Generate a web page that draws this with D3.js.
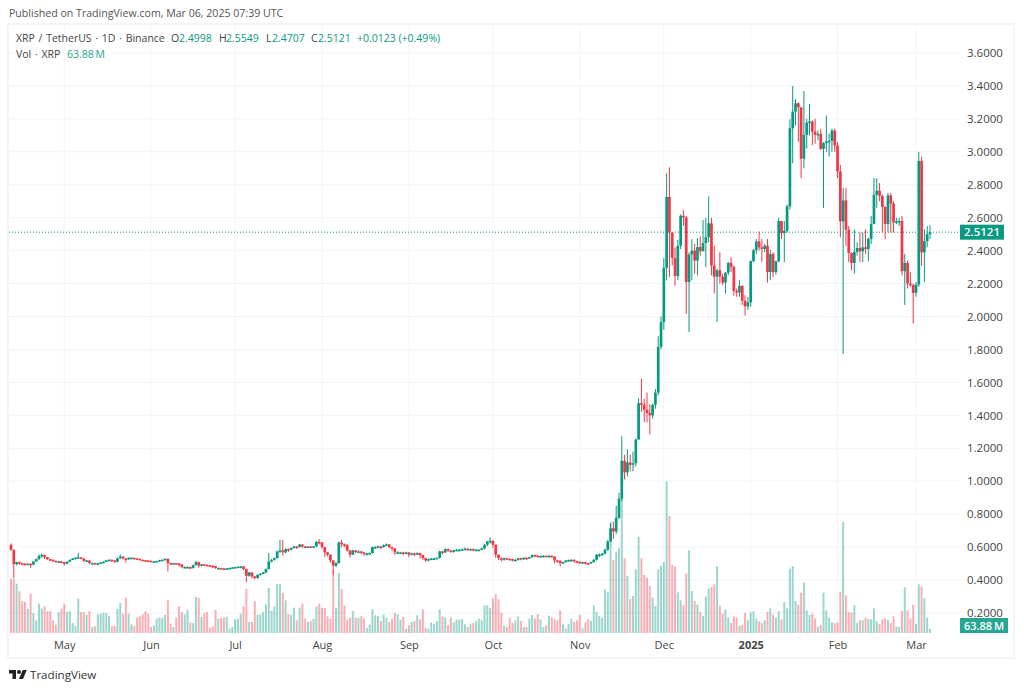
<!DOCTYPE html>
<html>
<head>
<meta charset="utf-8">
<script src="https://cdn.jsdelivr.net/npm/d3@7/dist/d3.min.js"></script>
<style>
body { margin: 0; background: #fff; }
text { font-family: "Open Sans", sans-serif; }
</style>
</head>
<body>
<svg id="chart" width="1024" height="691"></svg>
<script>
// daily candles, 12 Apr 2024 to 6 Mar 2025
var firstDay = Date.UTC(2024, 3, 12);
var firstOpen = 0.614;

var closes = [
  .584,.497,.509,.503,.499,.497,.499,.493,.513,.527,
  .547,.553,.539,.527,.523,.517,.513,.513,.509,.499,
  .511,.523,.531,.535,.539,.531,.517,.519,.503,.503,
  .501,.503,.507,.511,.519,.523,.519,.511,.533,.543,
  .531,.527,.535,.535,.531,.529,.523,.521,.519,.517,
  .513,.513,.515,.521,.523,.529,.503,.501,.503,.501,
  .495,.479,.479,.479,.473,.491,.509,.487,.495,.493,
  .489,.487,.485,.473,.473,.471,.467,.471,.473,.477,
  .479,.481,.483,.467,.426,.446,.422,.412,.432,.438,
  .446,.467,.513,.523,.533,.574,.580,.568,.588,.584,
  .594,.604,.600,.616,.604,.600,.604,.600,.604,.632,
  .628,.600,.568,.554,.519,.487,.503,.628,.618,.614,
  .580,.554,.580,.574,.574,.568,.560,.562,.564,.600,
  .600,.604,.600,.612,.616,.600,.592,.568,.568,.568,
  .564,.568,.554,.562,.560,.564,.552,.533,.519,.527,
  .531,.531,.535,.574,.568,.588,.580,.572,.580,.584,
  .584,.586,.590,.588,.588,.584,.584,.584,.592,.614,
  .634,.638,.614,.554,.533,.523,.533,.529,.527,.523,
  .523,.533,.529,.535,.533,.539,.552,.548,.543,.546,
  .547,.545,.547,.543,.519,.517,.503,.509,.519,.521,
  .523,.515,.511,.507,.509,.503,.501,.509,.523,.553,
  .555,.560,.584,.634,.714,.695,.778,.894,1.124,1.054,
  1.114,1.10,1.11,1.254,1.474,1.464,1.434,1.414,1.40,1.464,
  1.538,1.816,1.966,2.296,2.726,2.51,2.356,2.246,2.43,2.612,
  2.602,2.21,2.376,2.40,2.34,2.422,2.396,2.446,2.482,2.566,
  2.31,2.242,2.28,2.242,2.206,2.266,2.326,2.302,2.156,2.146,
  2.186,2.096,2.062,2.086,2.336,2.402,2.456,2.42,2.41,2.43,
  2.27,2.38,2.27,2.335,2.58,2.507,2.52,2.669,3.143,3.244,
  3.295,3.271,2.958,3.103,3.178,3.184,3.123,3.103,3.109,3.018,
  3.053,3.063,3.067,3.129,3.038,2.881,2.578,2.705,2.527,2.386,
  2.325,2.392,2.416,2.396,2.42,2.41,2.471,2.562,2.739,2.764,
  2.733,2.665,2.562,2.735,2.685,2.572,2.578,2.58,2.275,2.325,
  2.2,2.19,2.144,2.194,2.945,2.39,2.457,2.4998,2.5121
];

var highs = [
  .622,.586,.512,.512,.506,.504,.503,.502,.515,.530,
  .556,.562,.554,.541,.530,.525,.519,.517,.515,.511,
  .514,.525,.534,.538,.566,.540,.533,.522,.520,.507,
  .506,.505,.509,.513,.522,.526,.525,.520,.536,.556,
  .544,.534,.538,.539,.537,.532,.530,.524,.522,.520,
  .518,.516,.517,.523,.526,.531,.531,.506,.505,.504,
  .504,.496,.483,.483,.481,.493,.517,.512,.498,.497,
  .494,.491,.488,.486,.476,.475,.473,.473,.476,.479,
  .481,.483,.486,.485,.469,.450,.449,.425,.434,.441,
  .449,.470,.564,.527,.536,.578,.644,.644,.592,.592,
  .598,.608,.606,.620,.618,.606,.607,.606,.607,.636,
  .648,.630,.602,.570,.556,.522,.510,.634,.644,.622,
  .616,.582,.584,.582,.580,.576,.570,.566,.568,.604,
  .606,.610,.606,.616,.622,.618,.602,.594,.574,.572,
  .572,.572,.570,.566,.566,.568,.566,.554,.535,.530,
  .534,.535,.538,.578,.577,.592,.592,.582,.584,.588,
  .590,.592,.598,.594,.592,.592,.589,.588,.596,.618,
  .638,.660,.642,.616,.556,.537,.536,.535,.532,.530,
  .527,.535,.536,.538,.538,.542,.555,.554,.552,.549,
  .552,.550,.552,.550,.545,.522,.520,.512,.522,.524,
  .526,.525,.517,.513,.512,.511,.505,.512,.527,.559,
  .562,.565,.590,.644,.75,.755,.85,.93,1.274,1.16,
  1.194,1.162,1.18,1.26,1.504,1.624,1.50,1.538,1.468,1.47,
  1.56,1.88,2.0,2.354,2.87,2.906,2.51,2.42,2.466,2.62,
  2.646,2.61,2.39,2.47,2.44,2.476,2.486,2.586,2.60,2.73,
  2.60,2.43,2.29,2.39,2.26,2.27,2.33,2.36,2.31,2.17,
  2.22,2.19,2.13,2.12,2.34,2.41,2.47,2.516,2.47,2.44,
  2.47,2.406,2.39,2.34,2.60,2.58,2.58,2.68,3.198,3.40,
  3.32,3.30,3.27,3.37,3.20,3.29,3.19,3.20,3.13,3.14,
  3.06,3.22,3.11,3.14,3.14,3.06,2.92,2.78,2.78,2.55,
  2.39,2.53,2.45,2.51,2.51,2.53,2.48,2.61,2.84,2.84,
  2.81,2.74,2.67,2.75,2.75,2.70,2.60,2.60,2.61,2.38,
  2.34,2.27,2.2,2.21,3.0,2.97,2.53,2.55,2.5549
];

var lows = [
  .578,.412,.488,.492,.489,.490,.492,.474,.490,.511,
  .523,.534,.528,.522,.516,.510,.507,.509,.502,.487,
  .496,.510,.521,.528,.530,.526,.509,.511,.498,.497,
  .495,.489,.498,.503,.509,.516,.513,.505,.508,.527,
  .524,.506,.523,.528,.526,.524,.519,.516,.514,.513,
  .510,.509,.510,.514,.517,.520,.452,.495,.496,.494,
  .482,.472,.472,.472,.466,.470,.488,.475,.483,.486,
  .482,.480,.472,.468,.466,.465,.460,.463,.467,.470,
  .474,.476,.476,.460,.386,.420,.410,.404,.408,.430,
  .436,.441,.465,.507,.518,.530,.565,.548,.562,.570,
  .580,.592,.588,.598,.596,.592,.594,.596,.596,.600,
  .616,.590,.540,.544,.505,.432,.478,.500,.600,.600,
  .572,.536,.552,.562,.563,.556,.546,.548,.554,.560,
  .590,.594,.588,.598,.608,.592,.576,.552,.558,.558,
  .552,.556,.540,.550,.546,.552,.530,.522,.510,.514,
  .520,.522,.526,.530,.556,.564,.570,.565,.566,.574,
  .574,.580,.584,.578,.580,.574,.576,.576,.582,.586,
  .606,.622,.596,.534,.522,.513,.517,.522,.519,.514,
  .513,.518,.520,.523,.524,.531,.535,.540,.536,.538,
  .538,.541,.538,.535,.502,.505,.483,.498,.506,.512,
  .512,.505,.503,.496,.500,.494,.492,.500,.505,.518,
  .540,.548,.556,.578,.630,.650,.680,.770,.880,1.01,
  1.03,1.06,1.06,1.09,1.25,1.42,1.358,1.358,1.284,1.38,
  1.44,1.52,1.80,1.92,2.22,2.24,2.31,2.186,2.22,2.41,
  2.55,2.016,1.906,2.22,2.26,2.25,2.37,2.42,2.30,2.45,
  2.25,2.14,1.966,2.20,2.19,2.14,2.25,2.27,2.126,2.12,
  2.12,2.07,2.006,2.04,2.06,2.33,2.38,2.40,2.33,2.39,
  2.206,2.22,2.24,2.255,2.33,2.47,2.33,2.51,2.65,2.93,
  3.16,3.06,2.84,2.90,3.02,3.10,3.04,3.05,3.07,3.01,
  2.66,3.0,2.97,3.0,3.0,2.84,2.48,1.772,2.43,2.33,
  2.28,2.26,2.37,2.33,2.33,2.38,2.335,2.44,2.56,2.66,
  2.70,2.51,2.47,2.51,2.51,2.51,2.56,2.55,2.25,2.07,
  2.17,2.18,1.958,2.12,2.18,2.305,2.21,2.42,2.4707
];

// volume in millions of XRP
var volumes = [
  815,815,740,625,480,465,365,590,300,190,
  440,365,400,325,325,190,125,315,365,440,
  315,325,150,105,515,315,315,275,325,90,
  100,280,290,300,300,255,100,105,365,450,
  290,530,290,130,105,230,250,280,325,290,
  90,115,215,230,230,275,490,140,90,230,
  400,315,280,350,160,150,540,530,240,300,
  315,80,100,350,215,225,230,240,65,90,
  205,215,290,400,660,165,165,480,275,280,
  315,430,675,330,400,740,730,605,490,280,
  275,380,190,380,440,215,165,180,215,400,
  440,380,375,250,215,940,375,905,660,415,
  200,230,330,230,230,250,215,75,125,355,
  265,255,180,275,230,165,215,300,280,200,
  240,65,115,165,180,265,205,355,80,65,
  160,135,180,355,250,230,115,230,160,200,
  200,210,130,90,140,150,180,215,190,415,
  415,375,520,580,505,305,110,90,230,155,
  190,250,180,90,90,215,270,215,285,205,
  90,115,260,235,210,190,340,130,65,140,
  215,165,190,275,70,160,205,180,415,320,
  255,230,655,610,1645,1095,1220,1270,2050,1120,
  855,510,555,955,1445,1120,870,830,705,535,
  405,955,1010,1065,2275,1755,1020,995,610,490,
  415,890,1240,630,480,425,315,255,550,670,
  690,730,1005,410,290,355,230,150,250,230,
  105,120,300,190,310,325,220,175,150,190,
  315,370,275,230,325,205,465,370,965,1005,
  480,425,605,755,340,270,290,220,95,120,
  605,340,230,160,150,160,620,1665,565,315,
  300,415,150,190,190,230,215,205,370,180,
  135,205,220,190,150,250,95,95,330,685,
  340,220,425,135,730,700,520,230,63.88
];

var priceTicks = [0.2,0.4,0.6,0.8,1.0,1.2,1.4,1.6,1.8,2.0,2.2,2.4,2.6,2.8,3.0,3.2,3.4,3.6];
var monthTicks = [
  Date.UTC(2024,4,1), Date.UTC(2024,5,1), Date.UTC(2024,6,1), Date.UTC(2024,7,1),
  Date.UTC(2024,8,1), Date.UTC(2024,9,1), Date.UTC(2024,10,1), Date.UTC(2024,11,1),
  Date.UTC(2025,0,1), Date.UTC(2025,1,1), Date.UTC(2025,2,1)
];
var monthLabels = ["May","Jun","Jul","Aug","Sep","Oct","Nov","Dec","2025","Feb","Mar"];

var lastClose = 2.5121;
var lastVolume = "63.88\u2009M";

var upColor = "#089981", downColor = "#f23645";
var gridColor = "#f2f4f9";

var svg = d3.select("#chart");

var dayMs = 86400000;
var days = closes.map(function(c, i) { return firstDay + i * dayMs; });
var opens = [firstOpen].concat(closes.slice(0, -1));

var x = d3.scaleUtc()
  .domain([firstDay, days[days.length - 1]])
  .range([11, 930]);
var y = d3.scaleLinear().domain([0.2, 3.6]).range([613, 53]);
var yVol = d3.scaleLinear().domain([0, 2280]).range([633, 481]);

function isUp(i) { return closes[i] >= opens[i]; }

// frame
svg.append("rect")
  .attr("x", 8).attr("y", 24).attr("width", 1006).attr("height", 634)
  .attr("fill", "none").attr("stroke", "#f3f4f7").attr("stroke-width", 2);

// grid
svg.append("g").selectAll("line").data(priceTicks).enter().append("line")
  .attr("x1", 9).attr("x2", 960)
  .attr("y1", function(d) { return y(d); })
  .attr("y2", function(d) { return y(d); })
  .attr("stroke", gridColor);
svg.append("g").selectAll("line").data(monthTicks).enter().append("line")
  .attr("x1", function(d) { return x(d); })
  .attr("x2", function(d) { return x(d); })
  .attr("y1", 25).attr("y2", 634)
  .attr("stroke", gridColor);

// volume
svg.append("g").selectAll("rect").data(volumes).enter().append("rect")
  .attr("x", function(d, i) { return x(days[i]) - 1; })
  .attr("y", function(d) { return yVol(d); })
  .attr("width", 2)
  .attr("height", function(d) { return yVol(0) - yVol(d); })
  .attr("fill", function(d, i) { return isUp(i) ? upColor : downColor; })
  .attr("fill-opacity", 0.4);

// last price line
svg.append("line")
  .attr("x1", 9).attr("x2", 960)
  .attr("y1", y(lastClose)).attr("y2", y(lastClose))
  .attr("stroke", upColor).attr("stroke-dasharray", "1 2");

// candles
svg.append("g").selectAll("line").data(closes).enter().append("line")
  .attr("x1", function(d, i) { return x(days[i]); })
  .attr("x2", function(d, i) { return x(days[i]); })
  .attr("y1", function(d, i) { return y(highs[i]); })
  .attr("y2", function(d, i) { return y(lows[i]); })
  .attr("stroke", function(d, i) { return isUp(i) ? upColor : downColor; })
  .attr("stroke-width", 1);
svg.append("g").selectAll("rect").data(closes).enter().append("rect")
  .attr("x", function(d, i) { return x(days[i]) - 1.35; })
  .attr("y", function(d, i) { return y(Math.max(opens[i], d)); })
  .attr("width", 2.7)
  .attr("height", function(d, i) { return Math.max(1.5, Math.abs(y(opens[i]) - y(d))); })
  .attr("fill", function(d, i) { return isUp(i) ? upColor : downColor; });

// axes
var yAxis = svg.append("g")
  .attr("transform", "translate(960,0)")
  .call(d3.axisRight(y).tickValues(priceTicks).tickFormat(d3.format(".4f")).tickSize(0).tickPadding(7));
yAxis.select(".domain").remove();
yAxis.selectAll("text").attr("fill", "#444").style("font-size", "11.5px").style("font-family", "\"Open Sans\", sans-serif");

var xAxis = svg.append("g")
  .attr("transform", "translate(0,634)")
  .call(d3.axisBottom(x).tickValues(monthTicks).tickFormat(function(d, i) { return monthLabels[i]; }).tickSize(0).tickPadding(7));
xAxis.select(".domain").remove();
xAxis.selectAll("text").attr("fill", "#444").style("font-size", "11px")
  .style("font-family", "\"Open Sans\", sans-serif")
  .style("font-weight", function(d, i) { return monthLabels[i] == "2025" ? "700" : "400"; });

// last value tags
svg.append("rect").attr("x", 960).attr("y", y(lastClose) - 7.5).attr("width", 44).attr("height", 15).attr("fill", upColor);
svg.append("text").attr("x", 982).attr("y", y(lastClose) + 4)
  .attr("text-anchor", "middle").attr("fill", "#fff").style("font-size", "11.5px").style("font-weight", "600")
  .text(d3.format(".4f")(lastClose));
svg.append("rect").attr("x", 960).attr("y", 618).attr("width", 48).attr("height", 15).attr("fill", "#26a693");
svg.append("text").attr("x", 984).attr("y", 630)
  .attr("text-anchor", "middle").attr("fill", "#fff").style("font-size", "11px").style("font-weight", "600")
  .text(lastVolume);

// header and legend
function label(px, py, txt, color, size) {
  return svg.append("text").attr("x", px).attr("y", py).attr("fill", color)
    .style("font-size", (size || 10.5) + "px").text(txt);
}
label(9, 17, "Published on TradingView.com, Mar 06, 2025 07:39 UTC", "#555", 10.6);
label(16, 42, "XRP / TetherUS \u00b7 1D \u00b7 Binance", "#444").style("word-spacing", "1px");
label(171, 42, "O", "#444"); label(179, 42, "2.4998", upColor);
label(219, 42, "H", "#444"); label(226, 42, "2.5549", upColor);
label(266, 42, "L", "#444"); label(272, 42, "2.4707", upColor);
label(311, 42, "C", "#444"); label(318, 42, "2.5121", upColor);
label(357, 42, "+0.0123 (+0.49%)", upColor);
label(16, 58, "Vol \u00b7 XRP", "#444").style("word-spacing", "1px");
label(67, 58, "63.88\u2009M", "#26a693");

// logo
var logo = svg.append("g").attr("transform", "translate(9,668) scale(0.5)").attr("fill", "#222");
logo.append("path").attr("d", "M14 22H7V11H0V4h14v18zM28 22h-8l7.5-18h8L28 22z");
logo.append("circle").attr("cx", 20).attr("cy", 8).attr("r", 4);
label(30, 679, "TradingView", "#333", 11.6);
</script>
</body>
</html>
